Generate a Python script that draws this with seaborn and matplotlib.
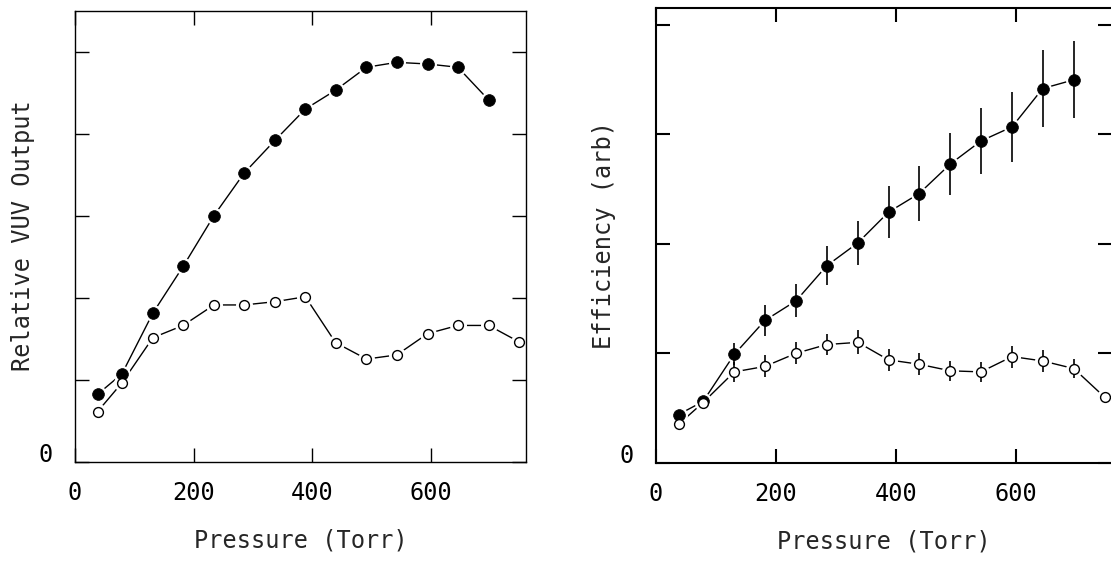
import numpy as np
import pandas as pd
import matplotlib
matplotlib.use("Agg")
import matplotlib.pyplot as plt
import seaborn as sns

# ----------------------------
# Data
# ----------------------------
pressure = [38, 79, 131, 182, 234, 285, 337, 388, 439, 491, 542, 594, 645, 697, 748]

# left panel: relative VUV output
vuv_filled = [0.82, 1.07, 1.81, 2.38, 3.00, 3.52, 3.92, 4.30, 4.53, 4.81, 4.87, 4.85, 4.81, 4.41]
vuv_open = [0.61, 0.96, 1.51, 1.66, 1.91, 1.91, 1.95, 2.01, 1.45, 1.25, 1.30, 1.56, 1.66, 1.66, 1.46]

# right panel: efficiency with error bars
eff_filled = [0.44, 0.56, 0.99, 1.30, 1.48, 1.80, 2.01, 2.29, 2.46, 2.73, 2.94, 3.07, 3.42, 3.50]
eff_filled_err = [0, 0, 0.10, 0.14, 0.15, 0.18, 0.20, 0.24, 0.25, 0.28, 0.30, 0.32, 0.35, 0.35]
eff_open = [0.35, 0.55, 0.83, 0.88, 1.00, 1.08, 1.10, 0.94, 0.90, 0.84, 0.83, 0.97, 0.93, 0.86, 0.60]
eff_open_err = [0, 0, 0.09, 0.10, 0.10, 0.10, 0.11, 0.10, 0.10, 0.09, 0.09, 0.10, 0.10, 0.09, 0]

x_ticks = [0, 200, 400, 600]
x_ticklabels = ["0", "200", "400", "600"]

# ----------------------------
# Style
# ----------------------------
sns.set_style("white")
plt.rcParams["font.family"] = ["DejaVu Sans Mono", "DejaVu Sans"]
FS = 17

fig = plt.figure(figsize=(11.11, 5.61), dpi=100)
W, H = 1111, 561
ax1 = fig.add_axes([75.1 / W, (H - 461.5) / H, 451 / W, 450.8 / H])
ax2 = fig.add_axes([655.7 / W, (H - 462.7) / H, 456 / W, 454.7 / H])


def draw_series(ax, x, y, filled, err=None):
    df = pd.DataFrame({"x": x[:len(y)], "y": y})
    sns.lineplot(data=df, x="x", y="y", ax=ax, color="black", lw=1.0,
                 sort=False, zorder=1)
    # white halo so the line stops short of each marker
    sns.scatterplot(data=df, x="x", y="y", ax=ax, s=150, color="white",
                    linewidth=0, zorder=2, legend=False)
    if err is not None:
        ax.errorbar(df["x"], df["y"], yerr=err, fmt="none", ecolor="black",
                    elinewidth=1.2, capsize=0, zorder=3)
    if filled:
        sns.scatterplot(data=df, x="x", y="y", ax=ax, s=72, color="black",
                        edgecolor="black", linewidth=0.5, zorder=4, legend=False)
    else:
        sns.scatterplot(data=df, x="x", y="y", ax=ax, s=50, color="white",
                        edgecolor="black", linewidth=1.0, zorder=4, legend=False)


def style_axes(ax, ymax, nticks, lw, ylabel, ylab_x):
    ax.set_xlim(0, 760)
    ax.set_ylim(0, ymax)
    ax.set_xticks(x_ticks)
    ax.set_xticklabels(x_ticklabels)
    ax.set_yticks(list(range(nticks + 1)))
    ax.set_yticklabels(["0"] + [""] * nticks)
    ax.yaxis.get_major_ticks()[0].label1.set_va("baseline")
    ax.tick_params(axis="both", which="both", direction="in", length=10,
                   width=lw, colors="black", labelsize=FS,
                   top=True, right=True, bottom=True, left=True)
    ax.tick_params(axis="x", pad=14)
    ax.tick_params(axis="y", pad=16)
    for s in ax.spines.values():
        s.set_visible(True)
        s.set_linewidth(lw)
        s.set_color("black")
    ax.set_xlabel("Pressure (Torr)", fontsize=FS)
    ax.set_ylabel(ylabel, fontsize=FS)
    ax.xaxis.set_label_coords(0.5, -0.148)
    ax.yaxis.set_label_coords(ylab_x, 0.5)
    ax.set_facecolor("white")


# left panel
draw_series(ax1, pressure, vuv_filled, True)
draw_series(ax1, pressure, vuv_open, False)
style_axes(ax1, 5.5, 5, 1.0, "Relative VUV Output", -0.089)

# right panel
draw_series(ax2, pressure, eff_filled, True, eff_filled_err)
draw_series(ax2, pressure, eff_open, False, eff_open_err)
style_axes(ax2, 4.156, 4, 1.5, "Efficiency (arb)", -0.087)
# the right frame edge of this panel falls past the picture edge
ax2.spines["right"].set_visible(False)

fig.savefig("out.png", dpi=100, facecolor="white")
